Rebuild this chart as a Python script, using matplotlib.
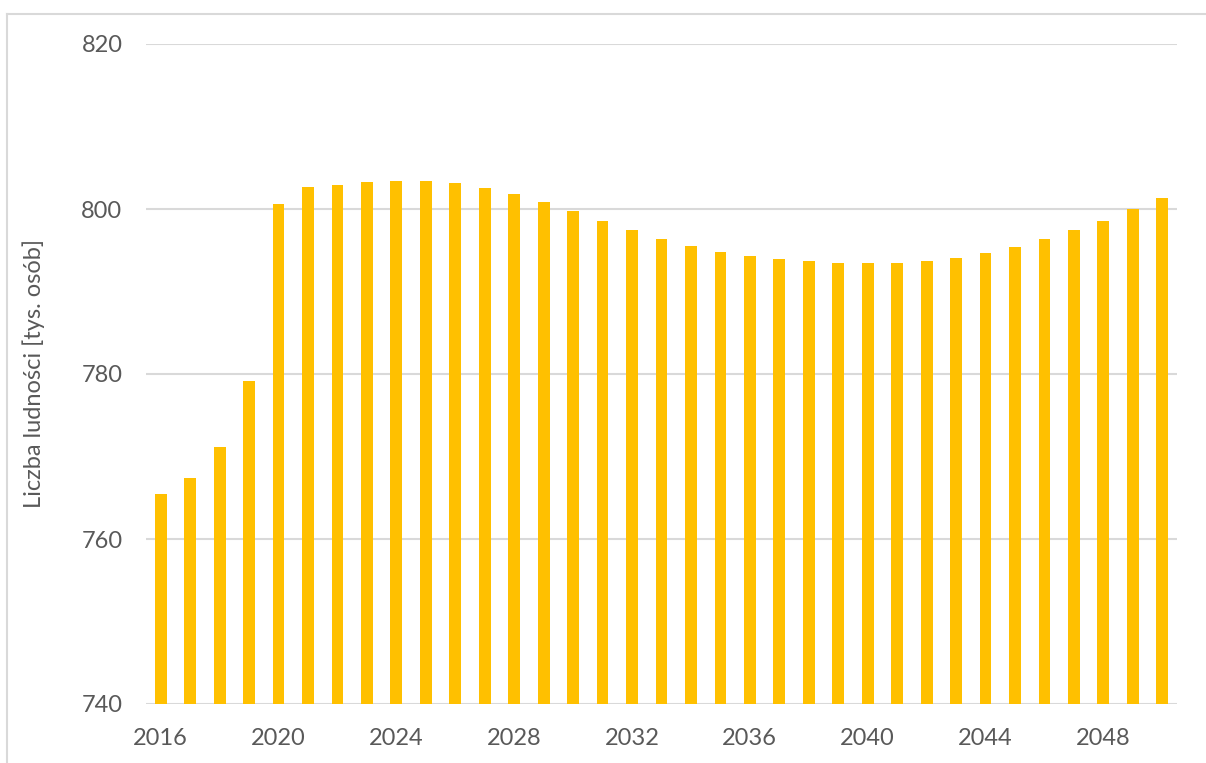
import matplotlib.pyplot as plt
from matplotlib.lines import Line2D

years = list(range(2016, 2051))
population = [765.4, 767.4, 771.1, 779.2, 800.6, 802.7, 802.9, 803.3, 803.4, 803.4,
              803.1, 802.6, 801.8, 800.8, 799.8, 798.6, 797.5, 796.4, 795.5, 794.8,
              794.25, 793.9, 793.65, 793.5, 793.4, 793.45, 793.65, 794.05, 794.65, 795.4,
              796.35, 797.45, 798.6, 799.95, 801.3]
tick_years = [2016, 2020, 2024, 2028, 2032, 2036, 2040, 2044, 2048]
y_ticks = [740, 760, 780, 800, 820]

plt.rcParams['font.family'] = ['Lato', 'DejaVu Sans']
text_color = '#595959'
grid_color = '#d9d9d9'

fig = plt.figure(figsize=(12.06, 7.63), dpi=100)
ax = fig.add_axes([146 / 1206, 59 / 763, 1031 / 1206, 660 / 763])

x = list(range(len(years)))
ax.bar(x, [v - 740 for v in population], bottom=740, width=0.4, color='#FFC000', zorder=3)

ax.set_xlim(-0.5, len(years) - 0.5)
ax.set_ylim(740, 820)
ax.set_yticks(y_ticks)
ax.set_yticklabels([str(t) for t in y_ticks])
ax.set_xticks([years.index(y) for y in tick_years])
ax.set_xticklabels([str(y) for y in tick_years])
ax.tick_params(axis='both', length=0, labelsize=17, colors=text_color)
ax.tick_params(axis='y', pad=17)
ax.tick_params(axis='x', pad=17)

ax.grid(axis='y', color=grid_color, linewidth=1.5, zorder=0)
for s in ax.spines.values():
    s.set_visible(False)

ax.set_ylabel('Liczba ludności [tys. osób]', fontsize=17, color=text_color, labelpad=26)

# light frame around the chart area
fig.add_artist(Line2D([7 / 1206, 7 / 1206], [0, 749 / 763], transform=fig.transFigure,
                      color=grid_color, linewidth=1.5))
fig.add_artist(Line2D([7 / 1206, 1], [749 / 763, 749 / 763], transform=fig.transFigure,
                      color=grid_color, linewidth=1.5))

fig.savefig('out.png', dpi=100)
